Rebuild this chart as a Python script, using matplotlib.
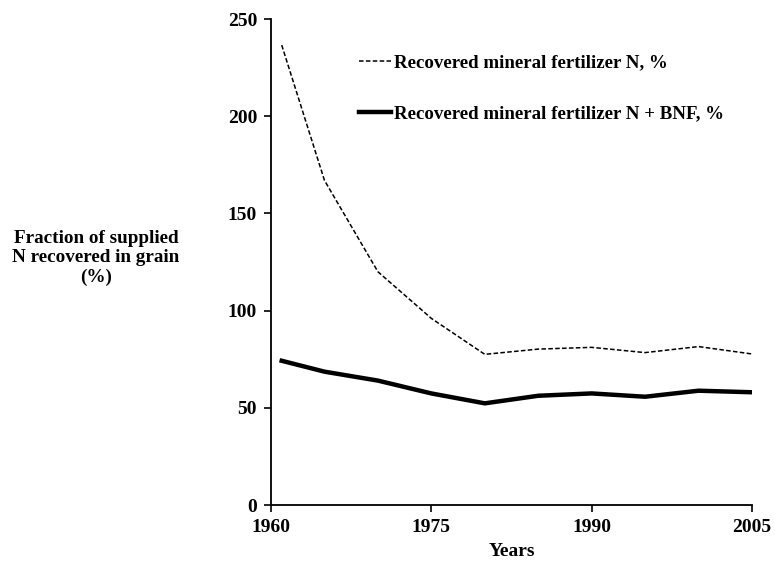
import matplotlib
matplotlib.use("Agg")
import matplotlib.pyplot as plt

# values
years = [1961, 1965, 1970, 1975, 1980, 1985, 1990, 1995, 2000, 2005]
mineral_n = [236.6, 167.0, 120.0, 96.0, 77.5, 80.2, 81.1, 78.4, 81.5, 77.7]
mineral_n_bnf = [74.2, 68.6, 64.0, 57.4, 52.3, 56.2, 57.4, 55.7, 58.8, 58.0]
x_ticks = [1960, 1975, 1990, 2005]
y_ticks = [0, 50, 100, 150, 200, 250]

plt.rcParams['font.family'] = ['Liberation Serif', 'DejaVu Serif']
plt.rcParams['font.weight'] = 'bold'

fig = plt.figure(figsize=(7.75, 5.61), dpi=100)
ax = fig.add_axes([0.3497, 0.0998, 0.6206, 0.8663])

ax.plot(years, mineral_n, color='black', linestyle=(0, (3, 1.5)), linewidth=1.1,
        label="Recovered mineral fertilizer N, %")
ax.plot(years, mineral_n_bnf, color='black', linestyle='-', linewidth=3.2,
        label="Recovered mineral fertilizer N + BNF, %")

ax.set_xlim(1960, 2005)
ax.set_ylim(0, 250)
ax.set_xticks(x_ticks)
ax.set_yticks(y_ticks)
ax.tick_params(direction='out', length=5, width=1.2, labelsize=14, pad=5)
for lab in ax.get_xticklabels() + ax.get_yticklabels():
    lab.set_fontweight('bold')

for side in ['top', 'right']:
    ax.spines[side].set_visible(False)
for side in ['left', 'bottom']:
    ax.spines[side].set_linewidth(1.3)

ax.set_xlabel("Years", fontsize=14, fontweight='bold', labelpad=5)
fig.text(0.124, 0.54, "Fraction of supplied\nN recovered in grain\n(%)",
         ha='center', va='center', fontsize=13.8, fontweight='bold', linespacing=1.15)

leg = ax.legend(loc='upper left', bbox_to_anchor=(0.148, 0.963), frameon=False,
                handlelength=1.7, handletextpad=0.15, labelspacing=1.8,
                prop={'weight': 'bold', 'size': 13.6})

fig.savefig("out.png", dpi=100)
